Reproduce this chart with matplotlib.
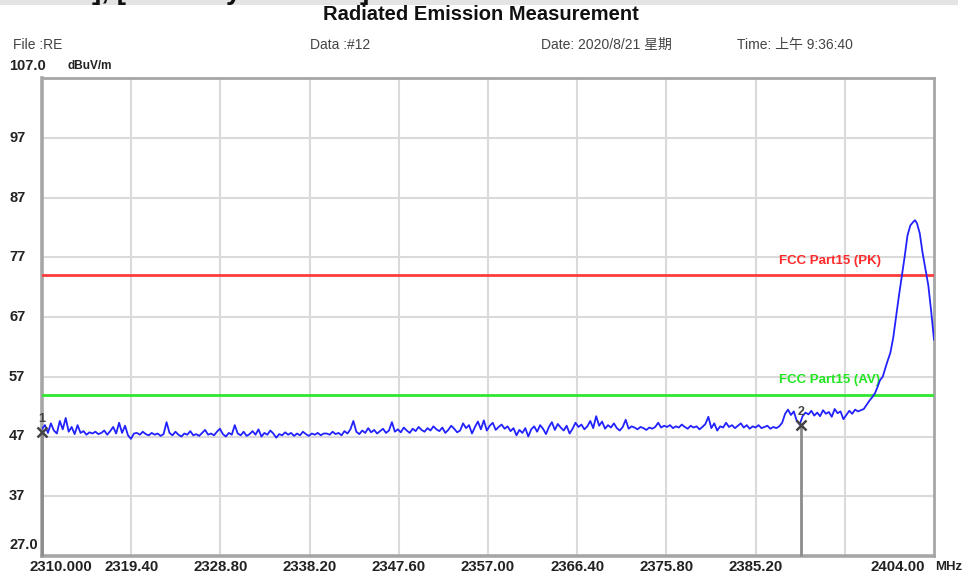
import numpy as np
import matplotlib
matplotlib.use("Agg")
import matplotlib.pyplot as plt
from matplotlib.patches import Rectangle

# ---------------- data ----------------
title = "Radiated Emission Measurement"
header = ["File :RE", "Data :#12", "Date: 2020/8/21 星期", "Time: 上午 9:36:40"]
y_unit = "dBuV/m"
x_unit = "MHz"

x_min, x_max = 2310.0, 2404.0
y_min, y_max = 27.0, 107.0
x_grid = [2319.4, 2328.8, 2338.2, 2347.6, 2357.0, 2366.4, 2375.8, 2385.2, 2394.6]
x_labels = ["2310.000", "2319.40", "2328.80", "2338.20", "2347.60", "2357.00",
            "2366.40", "2375.80", "2385.20", "", "2404.00"]
y_grid = [37, 47, 57, 67, 77, 87, 97]
y_labels = ["27.0", "37", "47", "57", "67", "77", "87", "97", "107.0"]

limit_pk = 74.0
limit_av = 54.0
limit_pk_name = "FCC Part15 (PK)"
limit_av_name = "FCC Part15 (AV)"

# noisy floor, segment by segment (start MHz, end MHz, levels dBuV/m)
seg1_range = (2310.0, 2320.0)
seg1 = [48.3, 48.9, 47.6, 49.2, 48.0, 47.5, 49.6, 48.2, 50.1, 47.8, 48.6, 47.4,
        48.9, 47.6, 47.9, 47.3, 47.7, 47.5, 47.8, 47.4, 47.6, 48.0, 47.3, 47.9,
        48.6, 47.5, 49.3, 47.6, 48.8, 47.2, 46.6, 47.5]
seg2_range = (2320.0, 2340.0)
seg2 = [47.6, 47.3, 47.8, 47.4, 47.2, 47.6, 47.3, 47.5, 47.1, 47.4, 49.4, 47.6,
        47.2, 47.8, 47.3, 47.0, 47.5, 47.3, 47.9, 47.2, 47.4, 47.1, 47.6, 48.1,
        47.3, 47.5, 47.2, 47.8, 48.3, 47.4, 47.0, 47.6, 47.3, 48.9, 47.5, 47.2,
        47.8, 47.1, 47.4, 47.9, 47.3, 48.2, 47.0, 47.6, 47.3, 48.0, 47.5, 46.8,
        47.4, 47.2, 47.7, 47.3, 47.6, 47.1, 47.5, 47.2, 47.8, 47.4, 47.1, 47.5,
        47.3, 47.6, 47.2, 47.5]
seg3_range = (2340.0, 2360.0)
seg3 = [47.5, 47.3, 47.8, 47.4, 47.6, 47.2, 47.9, 47.5, 48.2, 49.6, 47.8, 47.4,
        48.0, 47.6, 48.4, 47.7, 48.1, 47.5, 47.9, 48.3, 47.6, 48.0, 49.4, 47.8,
        48.2, 47.7, 48.5, 48.0, 47.6, 48.3, 47.9, 48.6, 48.1, 47.8, 48.4, 48.0,
        48.7, 48.2, 47.9, 48.5, 47.6, 48.1, 48.8, 48.3, 47.7, 48.0, 49.2, 48.4,
        48.9, 47.5, 48.6, 49.5, 48.2, 49.7, 48.0, 48.8, 49.3, 48.1, 48.6, 49.0,
        48.3, 48.7, 47.9, 48.4]
seg4_range = (2360.0, 2388.0)
seg4 = [47.2, 48.1, 47.6, 48.4, 47.0, 48.2, 48.7, 47.8, 48.9, 48.3, 47.4, 48.6,
        49.4, 48.1, 49.1, 48.5, 48.0, 48.8, 47.5, 48.3, 49.3, 48.6, 49.0, 48.2,
        48.7, 49.6, 48.4, 50.4, 48.8, 49.5, 48.3, 48.9, 48.5, 49.2, 48.4, 48.0,
        48.6, 49.8, 48.3, 48.7, 48.5, 48.2, 48.6, 48.4, 48.1, 48.5, 48.3, 48.6,
        49.3, 48.5, 48.8, 48.6, 48.9, 48.4, 48.7, 48.5, 49.0, 48.6, 48.3, 48.8,
        48.5, 48.7, 48.2, 48.6, 49.1, 50.3, 48.4, 49.2, 48.0, 48.7, 48.5, 49.3,
        48.6, 48.9, 48.4, 48.8, 49.2, 48.5, 48.9, 48.3, 48.7, 48.5, 48.9, 48.4,
        48.6, 48.8, 48.3, 48.6, 48.4, 48.7]
seg5_range = (2388.0, 2396.3)
seg5 = [49.3, 50.8, 51.5, 50.6, 51.2, 49.6, 49.0, 50.4, 51.0, 50.7, 51.3, 50.5,
        51.0, 50.4, 51.4, 50.8, 51.1, 50.3, 51.6, 50.9, 51.2, 49.9, 50.6, 51.3,
        50.8, 51.5, 51.2]

# carrier skirt and peak
peak_freq = [2396.6, 2396.9, 2397.2, 2397.5, 2397.8, 2398.1, 2398.3, 2398.6,
             2398.9, 2399.1, 2399.4, 2399.7, 2400.0, 2400.3, 2400.6, 2400.9,
             2401.2, 2401.5, 2401.8, 2402.0, 2402.2, 2402.5, 2402.8, 2403.1,
             2403.4, 2403.7, 2404.0]
peak_level = [51.6, 52.3, 53.0, 53.6, 54.3, 55.5, 56.4, 57.0, 58.6, 59.6, 61.0,
              63.5, 67.0, 70.5, 73.8, 77.0, 80.6, 82.3, 82.9, 83.2, 82.7, 81.0,
              77.7, 75.0, 72.3, 68.0, 63.2]

marker_freq = [2310.0, 2390.0]
marker_level = [47.8, 49.0]
marker_name = ["1", "2"]

# ---------------- build trace ----------------
segs = [(seg1_range, seg1), (seg2_range, seg2), (seg3_range, seg3),
        (seg4_range, seg4), (seg5_range, seg5)]
freqs, levels = [], []
for (a, b), vals in segs:
    f = np.linspace(a, b, len(vals), endpoint=False)
    freqs.extend(f.tolist())
    levels.extend(vals)
freqs.extend(peak_freq)
levels.extend(peak_level)

# ---------------- figure ----------------
W, H = 964, 581
fig = plt.figure(figsize=(W / 100, H / 100), dpi=100)
fig.patch.set_facecolor("white")

def fx(px):
    return px / W

def fy(py):
    return 1 - py / H

# grey strip at the very top (cropped screenshot edge, with glyph remnants)
fig.patches.append(Rectangle((0, fy(5)), fx(958), 5 / H, transform=fig.transFigure,
                             facecolor="#e4e4e4", edgecolor="none", zorder=0))
for px, s in [(92, "], ["), (226, "y"), (360, "]")]:
    fig.text(fx(px), fy(-8), s, fontsize=20, fontweight="bold", color="#111111",
             family="Liberation Sans", va="center", ha="left")

ax = fig.add_axes([fx(42), fy(556), fx(934) - fx(42), (556 - 78) / H])
ax.set_xlim(x_min, x_max)
ax.set_ylim(y_min, y_max)
ax.set_xticks(x_grid)
ax.set_yticks(y_grid)
ax.tick_params(length=0, labelbottom=False, labelleft=False)
ax.grid(True, color="#dadada", lw=1.5)
ax.set_axisbelow(True)
for sp in ax.spines.values():
    sp.set_color("#a6a6a6")
    sp.set_linewidth(2)
ax.spines["left"].set_linewidth(2.6)
ax.spines["bottom"].set_linewidth(2.6)

# limit lines
ax.axhline(limit_pk, color="#ff3b3b", lw=2, zorder=3)
ax.axhline(limit_av, color="#2ee82e", lw=2, zorder=3)
ax.text(2387.7, limit_pk + 2.4, limit_pk_name, color="#ff2a2a", fontsize=9.5,
        fontweight="bold", family="Liberation Sans", va="center", ha="left", zorder=4)
ax.text(2387.7, limit_av + 2.5, limit_av_name, color="#22e622", fontsize=9.5,
        fontweight="bold", family="Liberation Sans", va="center", ha="left", zorder=4)

# trace
ax.plot(freqs, levels, color="#2222ff", lw=1.3, zorder=5, clip_on=True)

# markers
for f, v, n in zip(marker_freq, marker_level, marker_name):
    ax.vlines(f, y_min, v, color="#8c8c8c", lw=2, zorder=6, clip_on=False)
    ax.plot([f], [v], marker="x", color="#444444", ms=6.5, mew=1.8, zorder=7,
            clip_on=False)
    ax.annotate(n, xy=(f, v), xytext=(0, 13), textcoords="offset pixels",
                ha="center", va="center", fontsize=9, fontweight="bold",
                color="#444444", family="Liberation Sans", zorder=7,
                annotation_clip=False)

# x tick labels
xl_pos = [x_min] + x_grid + [x_max]
lab_kw = dict(fontweight="bold", color="#222222",
              family="Liberation Sans", va="center", annotation_clip=False)
for i, (p, s) in enumerate(zip(xl_pos, x_labels)):
    if not s:
        continue
    if i == 0:
        ha, dx = "left", -12
    elif i == len(xl_pos) - 1:
        ha, dx = "right", -9
    else:
        ha, dx = "center", 0
    ax.annotate(s, xy=(p, 0), xycoords=("data", "axes fraction"),
                xytext=(dx, -11), textcoords="offset pixels", ha=ha,
                fontsize=10.8, **lab_kw)
ax.annotate(x_unit, xy=(x_max, 0), xycoords=("data", "axes fraction"),
            xytext=(1, -11), textcoords="offset pixels", ha="left",
            fontsize=9.5, **lab_kw)

# y tick labels
yl_pos = [y_min] + y_grid + [y_max]
for i, (v, s) in enumerate(zip(yl_pos, y_labels)):
    dy = 0
    if i == 0:
        dy = 11
    elif i == len(yl_pos) - 1:
        dy = 12
    ax.annotate(s, xy=(0, v), xycoords=("axes fraction", "data"),
                xytext=(-33, dy), textcoords="offset pixels", ha="left",
                fontsize=10.5, **lab_kw)
ax.annotate(y_unit, xy=(0, y_max), xycoords=("axes fraction", "data"),
            xytext=(25, 12), textcoords="offset pixels", ha="left",
            fontsize=8.5, fontweight="bold", color="#222222",
            family="Liberation Sans", va="center", annotation_clip=False)

# title & header
fig.text(fx(481), fy(15), title, fontsize=14.5, fontweight="bold", color="#111111",
         family="Liberation Sans", ha="center", va="center")
hdr_x = [13, 310, 541, 737]
for px, s in zip(hdr_x, header):
    fig.text(fx(px), fy(45), s, fontsize=10, color="#444444",
             family=["Liberation Sans", "Noto Sans CJK SC"], ha="left", va="center")

fig.savefig("out.png", dpi=100)
